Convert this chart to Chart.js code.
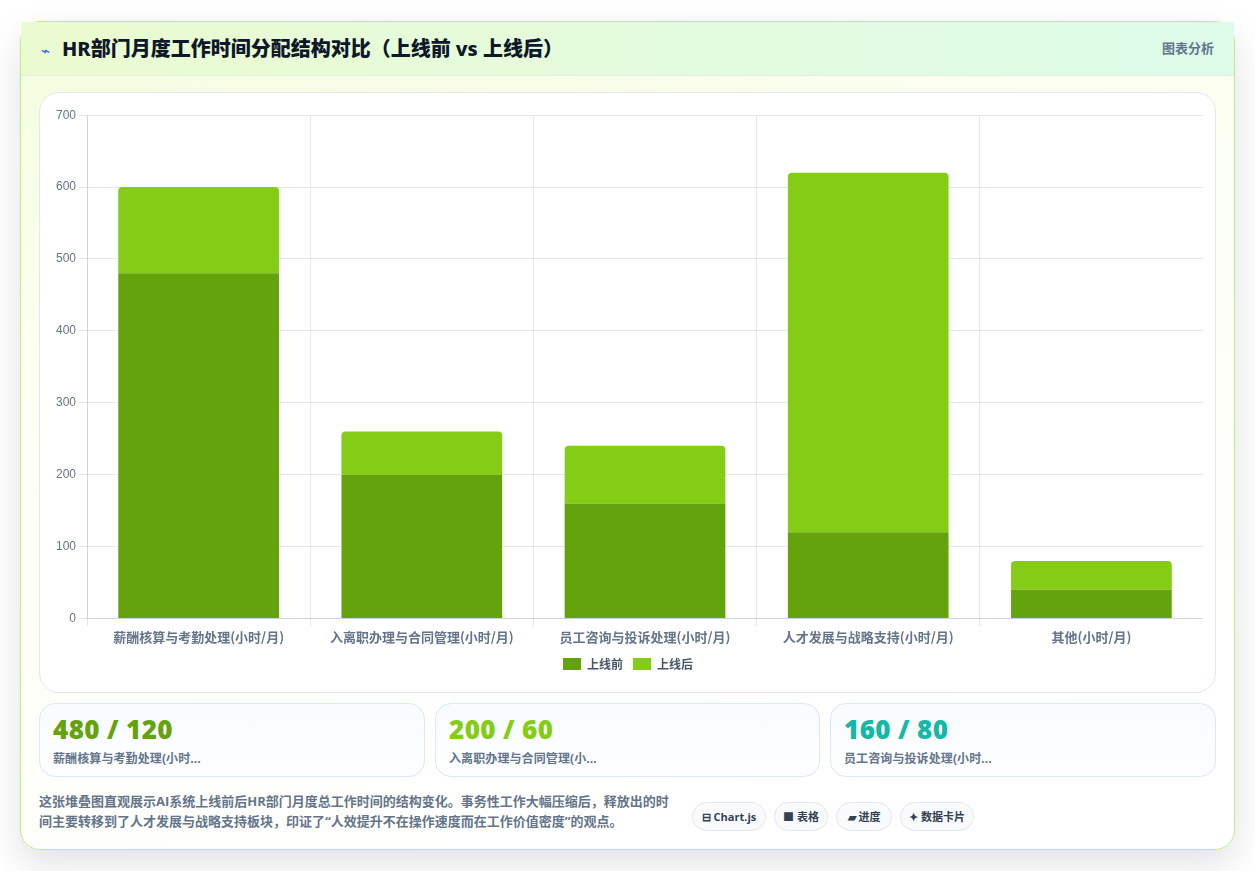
<!DOCTYPE html>
<html lang="zh-CN">
<head>
<meta charset="utf-8">
<title>HR部门月度工作时间分配结构对比</title>
<script src="https://cdn.jsdelivr.net/npm/chart.js@4/dist/chart.umd.min.js"></script>
<style>
* { box-sizing: border-box; margin: 0; padding: 0; }
html, body { width: 1255px; height: 871px; overflow: hidden; background: #fff; }
body { font-family: "Open Sans", "Noto Sans CJK SC", sans-serif; position: relative; }
.card {
    position: absolute; left: 20px; top: 21px; width: 1215px; height: 829px;
    border: 1px solid #c4ea85; border-radius: 20px;
    background: linear-gradient(165deg, #f3fddc 0%, #fbfff0 30%, #ffffff 85%);
    box-shadow: 0 14px 36px rgba(15, 23, 42, 0.13);
}
.header {
    position: absolute; left: 0; top: 0; width: 1213px; height: 54px;
    background: linear-gradient(90deg, #ebfbd0, #dcfbe8);
    border-bottom: 1px solid #e2ebe8;
    display: flex; align-items: center; justify-content: space-between;
    padding: 0 20px 2px;
}
.title { font-size: 20px; font-weight: 800; color: #0f172a; font-family: "Noto Sans", "Noto Sans CJK SC", sans-serif; }
.title .icon { color: #2563eb; font-size: 15px; font-weight: 400; margin-right: 12px; font-family: "DejaVu Sans"; }
.tag { font-size: 13px; font-weight: 700; color: #64748b; }
.panel {
    position: absolute; left: 18px; top: 70px; width: 1177px; height: 601px;
    background: #fff; border: 1px solid #e2e8f0; border-radius: 20px;
}
.panel canvas { position: absolute; left: 13px; top: 12px; }
.stat {
    position: absolute; top: 681px; height: 74px; width: 386px;
    border: 1px solid #dbe7f5; border-radius: 16px;
    background: linear-gradient(180deg, #f8fbff, #fdfeff);
    padding: 8px 13px;
}
.stat .num { font-size: 26px; font-weight: 800; letter-spacing: 0.4px; line-height: 34px; font-family: "Open Sans", sans-serif; }
.stat .name { font-size: 12px; font-weight: 700; color: #64748b; line-height: 18px; margin-top: 4px; letter-spacing: 0.1px; }
.note {
    position: absolute; left: 18px; top: 769px; width: 636px;
    font-size: 13px; font-weight: 700; line-height: 20px; color: #64748b;
}
.pill {
    position: absolute; top: 780px; height: 29px; line-height: 27px; text-align: center;
    border: 1px solid #e2e8f0; border-radius: 15px; background: #f8fafc;
    font-size: 11px; font-weight: 700; color: #334155; white-space: nowrap;
}
</style>
</head>
<body>
<div class="card">
    <div class="header">
        <div class="title"><span class="icon">⌁</span>HR部门月度工作时间分配结构对比（上线前 vs 上线后）</div>
        <div class="tag">图表分析</div>
    </div>
    <div class="panel"><canvas id="structureChart" width="1150" height="575"></canvas></div>
    <div id="stats"></div>
    <div class="note">这张堆叠图直观展示AI系统上线前后HR部门月度总工作时间的结构变化。事务性工作大幅压缩后，释放出的时间主要转移到了人才发展与战略支持板块，印证了“人效提升不在操作速度而在工作价值密度”的观点。</div>
    <div class="pill" style="left:671px;width:74px">⊟ Chart.js</div>
    <div class="pill" style="left:753px;width:54px">■ 表格</div>
    <div class="pill" style="left:815px;width:56px">▰ 进度</div>
    <div class="pill" style="left:879px;width:74px">✦ 数据卡片</div>
</div>
<script>
// 工时数据（小时/月）
const categories = ['薪酬核算与考勤处理(小时/月)', '入离职办理与合同管理(小时/月)', '员工咨询与投诉处理(小时/月)', '人才发展与战略支持(小时/月)', '其他(小时/月)'];
const beforeHours = [480, 200, 160, 120, 40];
const afterHours = [120, 60, 80, 500, 40];
const seriesNames = ['上线前', '上线后'];
const yTicks = [0, 100, 200, 300, 400, 500, 600, 700];
const statNames = ['薪酬核算与考勤处理(小时...', '入离职办理与合同管理(小...', '员工咨询与投诉处理(小时...'];
const statColors = ['#65a30d', '#84cc16', '#14b8a6'];

// 數據卡片
const statLefts = [18, 414, 809];
const statWidths = [386, 385, 386];
document.getElementById('stats').innerHTML = statNames.map((name, i) => `
    <div class="stat" style="left:${statLefts[i]}px;width:${statWidths[i]}px">
        <div class="num" style="color:${statColors[i]}">${beforeHours[i]} / ${afterHours[i]}</div>
        <div class="name">${name}</div>
    </div>`).join('');

// 堆疊柱狀圖
new Chart(document.getElementById('structureChart').getContext('2d'), {
    type: 'bar',
    data: {
        labels: categories,
        datasets: [{
            label: seriesNames[0],
            data: beforeHours,
            backgroundColor: '#65a30d'
        }, {
            label: seriesNames[1],
            data: afterHours,
            backgroundColor: '#84cc16',
            borderRadius: { topLeft: 4, topRight: 4, bottomLeft: 0, bottomRight: 0 },
            borderSkipped: false
        }]
    },
    options: {
        responsive: false,
        animation: false,
        plugins: {
            legend: {
                position: 'bottom',
                labels: {
                    boxWidth: 18,
                    boxHeight: 12,
                    color: '#475569',
                    font: { size: 12, weight: '700', family: '"Noto Sans CJK SC", sans-serif' }
                }
            }
        },
        scales: {
            x: {
                stacked: true,
                grid: { color: '#e2e8f0' },
                border: { color: '#cbd5e1' },
                ticks: {
                    color: '#64748b',
                    maxRotation: 0,
                    font: { size: 13, weight: '700', family: '"Noto Sans CJK SC", sans-serif' }
                }
            },
            y: {
                stacked: true,
                min: yTicks[0],
                max: yTicks[yTicks.length - 1],
                grid: { color: '#e2e8f0' },
                border: { color: '#cbd5e1' },
                ticks: {
                    stepSize: 100,
                    color: '#64748b',
                    font: { size: 12, family: '"Liberation Sans", sans-serif' }
                }
            }
        }
    }
});
</script>
</body>
</html>
